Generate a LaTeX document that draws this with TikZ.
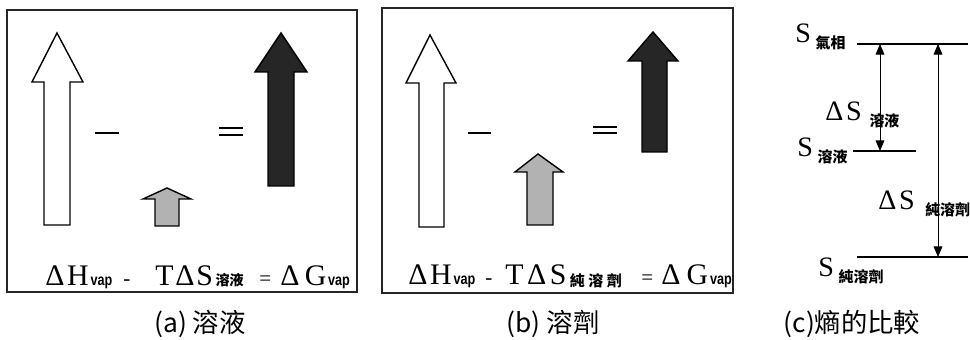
\documentclass[tikz,border=0pt]{standalone}
\usepackage{fontspec}
\setmainfont{Liberation Serif}
\newfontfamily\vapfont{Liberation Sans}
\newfontfamily\cjkfont{Noto Sans CJK TC}
\usetikzlibrary{positioning, arrows.meta}

\newcommand{\vap}{\kern1pt\scalebox{0.8}[1]{\fontsize{9}{10}\selectfont\vapfont\bfseries vap}}
\newcommand{\zsub}[3][8.5]{\raisebox{#2}{\fontsize{#1}{9}\selectfont\cjkfont\bfseries #3}}

\begin{document}
\begin{tikzpicture}[x=0.02cm, y=-0.02cm, >={Triangle[length=6pt,width=5pt]},
          panel/.style={draw=black!85, line width=0.8pt},
          hollow/.style={draw, line width=0.8pt, fill=white},
          grey/.style={draw, line width=0.8pt, fill=black!30},
          dark/.style={draw, line width=0.8pt, fill=black!85},
          sign/.style={line width=1pt},
          eqn/.style={anchor=base west, inner sep=0pt, font=\fontsize{17}{19}\selectfont},
          op/.style={anchor=base west, inner sep=0pt, font=\fontsize{12}{14}\selectfont},
          lab/.style={anchor=base west, inner sep=0pt, font=\fontsize{16}{18}\selectfont},
          level/.style={line width=0.7pt},
          caption/.style={font=\fontsize{15}{17}\selectfont\cjkfont}
        ]
        \useasboundingbox (0,0) rectangle (970,340);

        % (a) solution
        \draw[panel] (7,10) rectangle (357,292);
        \draw[hollow] (44,225) -- (44,82) -- (32,82) -- (57,33) -- (83,82) -- (70,82) -- (70,225) -- cycle;
        \draw[sign] (95,133) -- (119,133);
        \draw[grey] (155,226) -- (155,199) -- (143,199) -- (167,188) -- (191,199) -- (179,199) -- (179,226) -- cycle;
        \draw[sign] (219,128) -- (243,128);
        \draw[sign] (219,135) -- (243,135);
        \draw[dark] (268,186) -- (268,72) -- (255,72) -- (281,33) -- (307,72) -- (294,72) -- (294,186) -- cycle;

        \node[eqn] (Ha) at (45,286) {Δ\kern1.5pt H\vap};
        \node[op]  (ma) at (123,286) {-};
        \node[eqn] (Sa) at (155,286) {T\kern1pt Δ\kern1pt S\kern1.5pt\zsub[8]{0pt}{溶液}};
        \node[op]  (ea) at (259,286) {=};
        \node[eqn] (Ga) at (280,286) {Δ\kern3pt G\vap};

        % (b) solvent
        \draw[panel] (382,8) rectangle (733,293);
        \draw[hollow] (419,227) -- (419,83) -- (406,83) -- (430,35) -- (456,83) -- (444,83) -- (444,227) -- cycle;
        \draw[sign] (468,133) -- (491,133);
        \draw[grey] (527,225) -- (527,172) -- (515,172) -- (538,154) -- (563,172) -- (553,172) -- (553,225) -- cycle;
        \draw[sign] (593,127) -- (617,127);
        \draw[sign] (593,133) -- (617,133);
        \draw[dark] (642,152) -- (642,61) -- (628,61) -- (653,32) -- (678,61) -- (667,61) -- (667,152) -- cycle;

        \node[eqn] (Hb) at (408,285) {Δ\kern1.5pt H\vap};
        \node[op]  (mb) at (485,285) {-};
        \node[eqn] (Sb) at (505,285) {T\kern2pt Δ\kern2pt S\kern2pt\zsub[8.5]{-1pt}{純\kern2pt 溶\kern2pt 劑}};
        \node[op]  (eb) at (641,285) {=};
        \node[eqn] (Gb) at (661,285) {Δ\kern3.5pt G\vap};

        % (c) entropy levels
        \coordinate (gasL) at (857,44);
        \coordinate (gasR) at (968,44);
        \coordinate (solL) at (853,151);
        \coordinate (solR) at (916,151);
        \coordinate (pureL) at (857,257);
        \coordinate (pureR) at (968,257);
        \coordinate (d1top) at (880,44);
        \coordinate (d1bot) at (880,151);
        \coordinate (d2top) at (938,44);
        \coordinate (d2bot) at (938,257);

        \draw[level] (gasL) -- (gasR);
        \draw[level] (solL) -- (solR);
        \draw[level] (pureL) -- (pureR);
        \draw[<->, thin] (d1top) -- (d1bot);
        \draw[<->, thin] (d2top) -- (d2bot);

        \node[lab] (Sgas)  at (795,43)  {S\,\zsub{-3pt}{氣相}};
        \node[lab] (dSsol) at (825,121) {Δ\kern1.5pt S\;\zsub{-3pt}{溶液}};
        \node[lab] (Ssol)  at (797,157) {S\,\zsub{-3pt}{溶液}};
        \node[lab] (dSpur) at (878,210) {Δ\kern1.5pt S\kern6pt\zsub{-3pt}{純溶劑}};
        \node[lab] (Spur)  at (818,277) {S\,\zsub{-3pt}{純溶劑}};

        % captions
        \node[caption] (capa) at (200,324) {(a) 溶液};
        \node[caption] (capb) at (553,324) {(b) 溶劑};
        \node[caption] (capc) at (852,324) {(c)熵的比較};
\end{tikzpicture}
\end{document}
